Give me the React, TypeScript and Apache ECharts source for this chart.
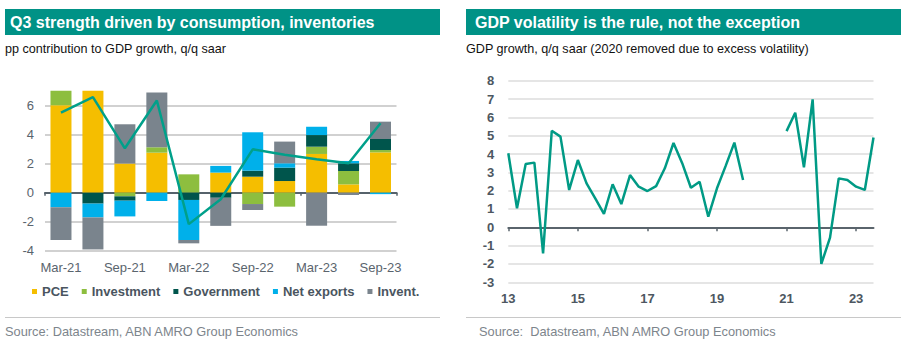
import React, { useEffect, useRef } from "react";
import * as echarts from "echarts";

// ---------- Left chart data ----------
const quarterCats = ["Mar-21", "Jun-21", "Sep-21", "Dec-21", "Mar-22", "Jun-22", "Sep-22", "Dec-22", "Mar-23", "Jun-23", "Sep-23"];
const pce = [6.0, 7.9, 2.0, 2.75, 0, 1.38, 1.1, 0.8, 2.66, 0.57, 2.77];
const investment = [2.0, 0.5, -0.25, 0.37, 1.26, 0, -0.78, -0.96, 0.5, 0.92, 0.16];
const government = [0, -0.75, -0.3, 0, -0.5, -0.35, 0.41, 0.92, 0.8, 0.53, 0.76];
const netExports = [-1.0, -0.95, -1.08, -0.57, -2.75, 0.46, 2.64, 0.3, 0.57, 0.16, -0.1];
const inventories = [-2.25, -2.2, 2.7, 3.76, -0.23, -1.93, -0.41, 1.49, -2.27, -0.16, 1.19];
const gdpContrib = [5.5, 6.56, 3.05, 6.33, -2.16, -0.45, 2.98, 2.6, 2.3, 2.02, 4.77];

// ---------- Right chart data ----------
const years = [2013, 2014, 2015, 2016, 2017, 2018, 2019, 2020, 2021, 2022, 2023];
const quarterIds: string[] = [];
years.forEach((y) => {
  for (let q = 1; q <= 4; q++) {
    if (y === 2023 && q > 3) break;
    quarterIds.push(`${y}Q${q}`);
  }
});
const gdpGrowth = [
  4.04, 1.04, 3.45, 3.53,
  -1.42, 5.27, 4.95, 2.04,
  3.67, 2.4, 1.58, 0.73,
  2.35, 1.27, 2.85, 2.22,
  1.98, 2.25, 3.22, 4.6,
  3.5, 2.16, 2.49, 0.58,
  2.13, 3.35, 4.62, 2.58,
  null, null, null, null,
  5.25, 6.25, 3.27, 6.98,
  -2.0, -0.56, 2.67, 2.58,
  2.22, 2.04, 4.9,
];

const FONT = "'Liberation Sans', Arial, Helvetica, sans-serif";
const TEAL = "#009286";
const COLORS = {
  pce: "#f5be00",
  inv: "#8dbe3f",
  gov: "#00554c",
  nx: "#00b0ea",
  invent: "#7a848d",
  line: "#00a08a",
};

export default function App() {
  const ref = useRef<HTMLDivElement>(null);

  useEffect(() => {
    document.body.style.margin = "0";
    if (!ref.current) return;
    const chart = echarts.init(ref.current, null, { renderer: "svg" });

    const barSeries = (name: string, data: number[], color: string) => ({
      name,
      type: "bar",
      stack: "contrib",
      xAxisIndex: 0,
      yAxisIndex: 0,
      barWidth: 21,
      data,
      itemStyle: { color },
      emphasis: { disabled: true },
    });

    const option: any = {
      animation: false,
      textStyle: { fontFamily: FONT },
      graphic: [
        { type: "rect", shape: { x: 5, y: 9, width: 435, height: 26 }, style: { fill: TEAL }, silent: true },
        {
          type: "text", x: 10, y: 22,
          style: { text: "Q3 strength driven by consumption, inventories", fill: "#ffffff", font: `bold 16px ${FONT}`, verticalAlign: "middle" },
        },
        { type: "rect", shape: { x: 466, y: 9, width: 435, height: 26 }, style: { fill: TEAL }, silent: true },
        {
          type: "text", x: 475, y: 22,
          style: { text: "GDP volatility is the rule, not the exception", fill: "#ffffff", font: `bold 16px ${FONT}`, verticalAlign: "middle" },
        },
        {
          type: "text", x: 5, y: 49,
          style: { text: "pp contribution to GDP growth, q/q saar", fill: "#111111", font: `12.6px ${FONT}`, verticalAlign: "middle" },
        },
        {
          type: "text", x: 466, y: 49,
          style: { text: "GDP growth, q/q saar (2020 removed due to excess volatility)", fill: "#111111", font: `12.6px ${FONT}`, verticalAlign: "middle" },
        },
        { type: "line", shape: { x1: 5, y1: 317.5, x2: 440, y2: 317.5 }, style: { stroke: "#c8c8c8", lineWidth: 1 } },
        { type: "line", shape: { x1: 466, y1: 317.5, x2: 901, y2: 317.5 }, style: { stroke: "#c8c8c8", lineWidth: 1 } },
        {
          type: "text", x: 5, y: 331,
          style: { text: "Source: Datastream, ABN AMRO Group Economics", fill: "#7d858c", font: `12.8px ${FONT}`, verticalAlign: "middle" },
        },
        {
          type: "text", x: 479, y: 331,
          style: { text: "Source:  Datastream, ABN AMRO Group Economics", fill: "#7d858c", font: `12.8px ${FONT}`, verticalAlign: "middle" },
        },
      ],
      legend: {
        left: 32,
        top: 285,
        padding: 0,
        icon: "rect",
        itemWidth: 5,
        itemHeight: 5,
        itemGap: 13,
        textStyle: { fontFamily: FONT, fontSize: 13, fontWeight: "bold", color: "#4a5560" },
        data: ["PCE", "Investment", "Government", "Net exports", "Invent."],
        selectedMode: false,
      },
      grid: [
        { left: 45, top: 90.8, width: 351.5, height: 160.1, containLabel: false },
        { left: 508.3, top: 80.7, width: 365.2, height: 201.6, containLabel: false },
      ],
      xAxis: [
        {
          type: "category",
          gridIndex: 0,
          data: quarterCats,
          axisLine: { onZero: true, lineStyle: { color: "#56626b", width: 2 } },
          axisTick: { show: true, interval: (i: number) => i === 0 || i === 8, length: 3, lineStyle: { color: "#56626b", width: 1.5 } },
          axisLabel: { interval: 1, margin: 10, fontSize: 13, color: "#5a646d", fontFamily: FONT },
          splitLine: { show: false },
        },
        {
          type: "category",
          gridIndex: 1,
          data: quarterIds,
          boundaryGap: false,
          axisLine: { onZero: true, lineStyle: { color: "#5a646c", width: 2 } },
          axisTick: { show: true, interval: 7, length: 4, lineStyle: { color: "#5a646c", width: 1.5 } },
          axisLabel: {
            interval: 7,
            margin: 10,
            fontSize: 13,
            fontWeight: "bold",
            color: "#4d5761",
            fontFamily: FONT,
            formatter: (v: string) => v.slice(2, 4),
          },
          splitLine: { show: false },
        },
      ],
      yAxis: [
        {
          type: "value",
          gridIndex: 0,
          min: -4,
          max: 7,
          interval: 2,
          axisLine: { show: false },
          axisTick: { show: false },
          axisLabel: { showMaxLabel: false, margin: 11, fontSize: 13, color: "#5a646d", fontFamily: FONT },
          splitLine: { show: true, showMaxLine: false, lineStyle: { color: "#c2c2c2", width: 1.5 } },
        },
        {
          type: "value",
          gridIndex: 1,
          min: -3,
          max: 8,
          interval: 1,
          axisLine: { show: false },
          axisTick: { show: false },
          axisLabel: { margin: 14, fontSize: 13, fontWeight: "bold", color: "#4d5761", fontFamily: FONT },
          splitLine: { show: true, lineStyle: { color: "#dcdcdc", width: 1.5 } },
        },
      ],
      series: [
        barSeries("PCE", pce, COLORS.pce),
        barSeries("Investment", investment, COLORS.inv),
        barSeries("Government", government, COLORS.gov),
        barSeries("Net exports", netExports, COLORS.nx),
        barSeries("Invent.", inventories, COLORS.invent),
        {
          name: "GDP",
          type: "line",
          xAxisIndex: 0,
          yAxisIndex: 0,
          data: gdpContrib,
          showSymbol: false,
          symbol: "none",
          z: 5,
          lineStyle: { color: COLORS.line, width: 2.5 },
          itemStyle: { color: COLORS.line },
        },
        {
          name: "GDP growth",
          type: "line",
          xAxisIndex: 1,
          yAxisIndex: 1,
          data: gdpGrowth,
          showSymbol: false,
          symbol: "none",
          connectNulls: false,
          lineStyle: { color: "#009a85", width: 2.5 },
          itemStyle: { color: "#009a85" },
        },
      ],
    };

    chart.setOption(option);
    return () => {
      chart.dispose();
    };
  }, []);

  return <div ref={ref} style={{ width: 901, height: 349 }} />;
}
